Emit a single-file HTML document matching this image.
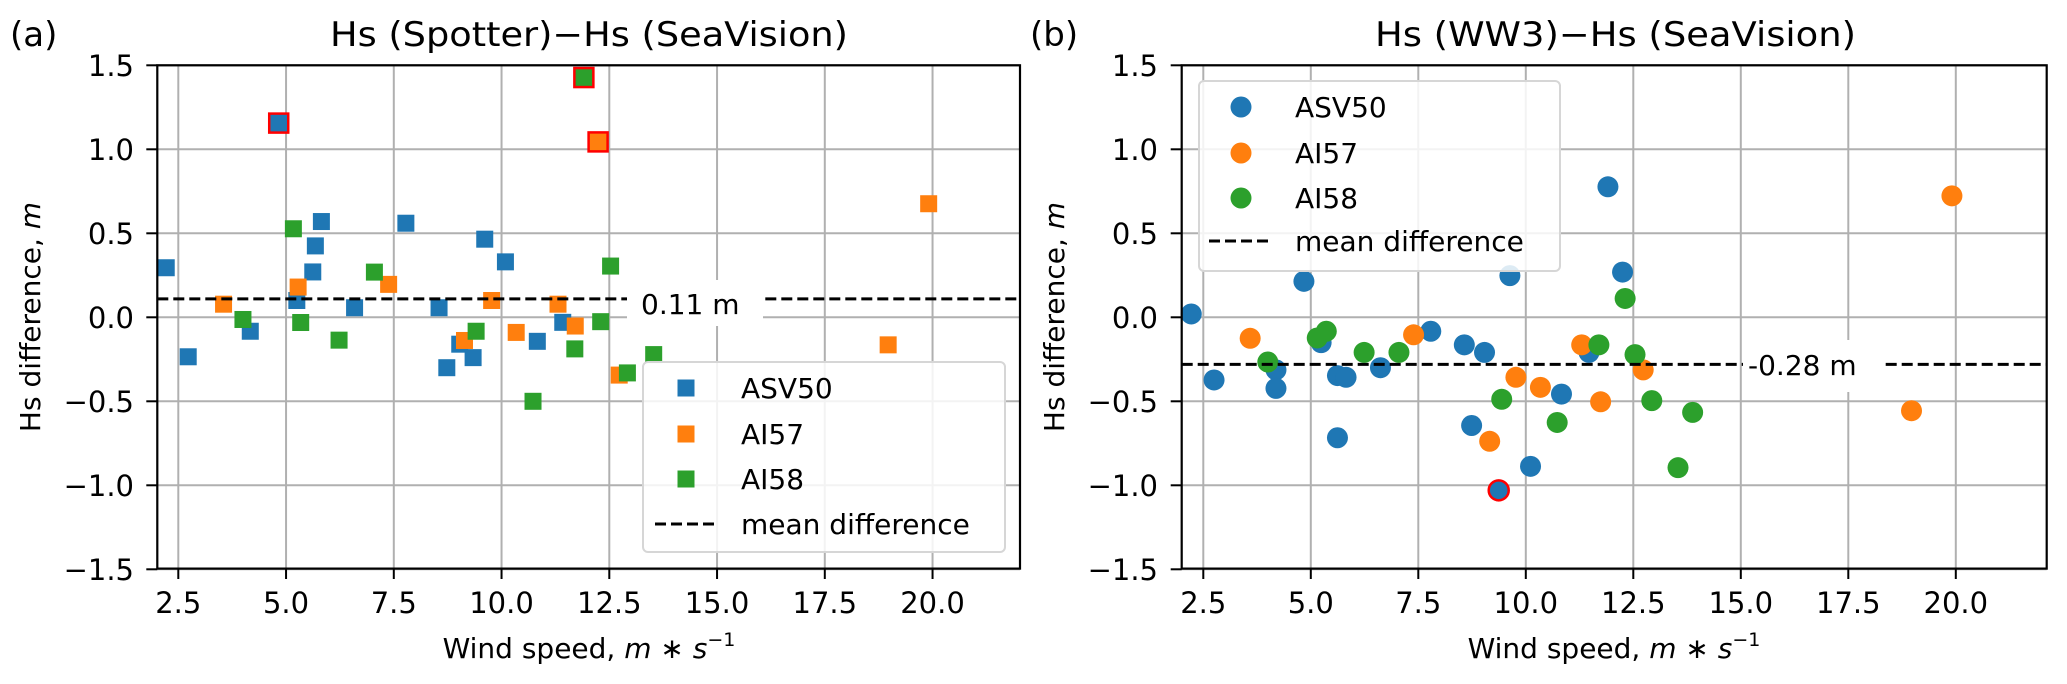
<!DOCTYPE html>
<html><head><meta charset="utf-8"><style>
html,body{margin:0;padding:0;background:#fff}
svg{display:block}
text{font-family:"DejaVu Sans","Liberation Sans",sans-serif;fill:#000}
</style></head><body>
<svg id="s" width="2067" height="684" viewBox="0 0 2067 684" xmlns="http://www.w3.org/2000/svg">
<rect width="2067" height="684" fill="#fff"/>
<g id="grid" stroke="#b0b0b0" stroke-width="2"></g>
<g id="pts"></g>
<g id="over"></g>
<g id="axes" fill="none" stroke="#000" stroke-width="2.2">
<rect x="157.3" y="65.3" width="862.7" height="503.3"/>
<rect x="1181.7" y="65.3" width="865" height="503.3"/>
</g>
<g id="ticks" stroke="#000" stroke-width="2"></g>
<g font-size="29">
<text x="330" y="46" font-size="34" textLength="518" lengthAdjust="spacingAndGlyphs">Hs (Spotter)−Hs (SeaVision)</text>
<text x="10" y="46" font-size="34">(a)</text>
<text x="1375" y="46" font-size="34" textLength="481" lengthAdjust="spacingAndGlyphs">Hs (WW3)−Hs (SeaVision)</text>
<text x="1030" y="46" font-size="34">(b)</text>
<g font-size="28">
<text x="589" y="658" text-anchor="middle">Wind speed, <tspan font-style="italic">m</tspan> ∗ <tspan font-style="italic">s</tspan><tspan font-size="19" dy="-12">−1</tspan></text>
<text x="1614" y="658" text-anchor="middle">Wind speed, <tspan font-style="italic">m</tspan> ∗ <tspan font-style="italic">s</tspan><tspan font-size="19" dy="-12">−1</tspan></text>
<text transform="translate(40,317) rotate(-90)" text-anchor="middle">Hs difference, <tspan font-style="italic">m</tspan></text>
<text transform="translate(1064,317) rotate(-90)" text-anchor="middle">Hs difference, <tspan font-style="italic">m</tspan></text>
</g>
<g text-anchor="end">
<text x="134" y="76">1.5</text><text x="134" y="160">1.0</text><text x="134" y="244">0.5</text><text x="134" y="328">0.0</text><text x="134" y="412">−0.5</text><text x="134" y="496">−1.0</text><text x="134" y="580">−1.5</text>
<text x="1158" y="76">1.5</text><text x="1158" y="160">1.0</text><text x="1158" y="244">0.5</text><text x="1158" y="328">0.0</text><text x="1158" y="412">−0.5</text><text x="1158" y="496">−1.0</text><text x="1158" y="580">−1.5</text>
</g>
<g text-anchor="middle">
<text x="178.3" y="613">2.5</text><text x="286" y="613">5.0</text><text x="393.8" y="613">7.5</text><text x="501.5" y="613">10.0</text><text x="609.3" y="613">12.5</text><text x="717" y="613">15.0</text><text x="824.8" y="613">17.5</text><text x="932.5" y="613">20.0</text>
<text x="1203.3" y="613">2.5</text><text x="1310.8" y="613">5.0</text><text x="1418.3" y="613">7.5</text><text x="1525.8" y="613">10.0</text><text x="1633.3" y="613">12.5</text><text x="1740.8" y="613">15.0</text><text x="1848.3" y="613">17.5</text><text x="1955.8" y="613">20.0</text>
</g>
</g>
<!-- mean labels -->
<rect x="627" y="280" width="136" height="46" fill="#fff"/>
<text x="641" y="314" font-size="28">0.11 m</text>
<rect x="1743" y="340" width="139" height="52" fill="#fff"/>
<text x="1748" y="375" font-size="28">-0.28 m</text>
<!-- legends -->
<rect x="643" y="362" width="362" height="190" rx="5" fill="#fff" fill-opacity="0.85" stroke="#d6d6d6" stroke-width="2"/>
<rect x="677.5" y="379.5" width="17" height="17" fill="#1f77b4"/>
<rect x="677.5" y="425.5" width="17" height="17" fill="#ff7f0e"/>
<rect x="677.5" y="470.5" width="17" height="17" fill="#2ca02c"/>
<line x1="655" y1="524" x2="717" y2="524" stroke="#000" stroke-width="3" stroke-dasharray="11,5"/>
<g font-size="28"><text x="741" y="398">ASV50</text><text x="741" y="444">AI57</text><text x="741" y="489">AI58</text><text x="741" y="534">mean difference</text></g>
<rect x="1199" y="81" width="361" height="190" rx="5" fill="#fff" fill-opacity="0.85" stroke="#d6d6d6" stroke-width="2"/>
<circle cx="1241" cy="107" r="10.5" fill="#1f77b4"/>
<circle cx="1241" cy="153" r="10.5" fill="#ff7f0e"/>
<circle cx="1241" cy="198" r="10.5" fill="#2ca02c"/>
<line x1="1209" y1="241" x2="1272" y2="241" stroke="#000" stroke-width="3" stroke-dasharray="11,5"/>
<g font-size="28"><text x="1295" y="117">ASV50</text><text x="1295" y="163">AI57</text><text x="1295" y="208">AI58</text><text x="1295" y="251">mean difference</text></g>
</svg>
<script>
var NS="http://www.w3.org/2000/svg";
function el(p,t,a){var e=document.createElementNS(NS,t);for(var k in a)e.setAttribute(k,a[k]);p.appendChild(e);return e;}
var grid=document.getElementById('grid'),ticks=document.getElementById('ticks'),pts=document.getElementById('pts');
var Y=function(v){return 317.3-168*v;};
var panels=[{x0:70.55,s:43.1,L:157.3,R:1020},{x0:1095.8,s:43.0,L:1181.7,R:2046.7}];
panels.forEach(function(P){
 for(var v=2.5;v<=20.01;v+=2.5){var x=P.x0+P.s*v;el(grid,'line',{x1:x,x2:x,y1:65.3,y2:568.6});el(ticks,'line',{x1:x,x2:x,y1:568.6,y2:579});}
 for(var w=-1.5;w<=1.51;w+=0.5){var y=Y(w);el(grid,'line',{x1:P.L,x2:P.R,y1:y,y2:y});el(ticks,'line',{x1:P.L-11,x2:P.L,y1:y,y2:y});}
});
var C={b:'#1f77b4',o:'#ff7f0e',g:'#2ca02c'};
var A={b:[[2.22,.295],[2.73,-.235],[4.17,-.083],[5.25,.10],[5.62,.27],[5.68,.425],[5.82,.57],[6.59,.057],[7.78,.56],[8.55,.057],[8.73,-.30],[9.03,-.16],[9.34,-.24],[9.61,.465],[10.09,.33],[10.83,-.143],[11.42,-.03],[4.83,1.156,1]],
o:[[3.55,.078],[5.28,.18],[7.38,.196],[9.14,-.138],[9.77,.10],[10.34,-.09],[11.31,.078],[11.71,-.052],[12.73,-.344],[18.97,-.164],[19.91,.676],[12.24,1.044,1]],
g:[[4.0,-.013],[5.17,.527],[5.34,-.031],[6.23,-.136],[7.05,.269],[9.41,-.083],[10.73,-.50],[11.70,-.188],[12.30,-.026],[12.53,.305],[12.92,-.331],[13.53,-.222],[11.91,1.427,1]]};
var B={b:[[2.22,.02],[2.75,-.373],[4.19,-.313],[4.19,-.423],[4.84,.214],[5.24,-.151],[5.62,-.717],[5.62,-.347],[5.82,-.357],[6.62,-.30],[7.79,-.083],[8.57,-.164],[8.74,-.644],[9.04,-.209],[9.63,.248],[10.11,-.887],[10.83,-.457],[11.47,-.209],[11.91,.777],[12.25,.269],[9.37,-1.03,1]],
o:[[3.59,-.125],[7.39,-.104],[9.16,-.738],[9.77,-.357],[10.34,-.417],[11.30,-.164],[11.74,-.503],[12.73,-.313],[18.97,-.556],[19.91,.723]],
g:[[4.0,-.266],[5.15,-.123],[5.36,-.083],[6.24,-.209],[7.05,-.209],[9.44,-.488],[10.73,-.626],[11.70,-.164],[12.31,.112],[12.54,-.222],[12.93,-.496],[13.54,-.895],[13.88,-.566]]};
['b','o','g'].forEach(function(k){
 A[k].forEach(function(p){var x=panels[0].x0+panels[0].s*p[0],y=Y(p[1]);
  if(p[2])el(pts,'rect',{x:x-9.5,y:y-9.5,width:19,height:19,fill:C[k],stroke:'#ff0000','stroke-width':2.5});
  else el(pts,'rect',{x:x-8.5,y:y-8.5,width:17,height:17,fill:C[k]});});
});
['b','o','g'].forEach(function(k){
 B[k].forEach(function(p){var x=panels[1].x0+panels[1].s*p[0],y=Y(p[1]);
  if(p[2])el(pts,'circle',{cx:x,cy:y,r:10,fill:C[k],stroke:'#ff0000','stroke-width':2.5});
  else el(pts,'circle',{cx:x,cy:y,r:10.5,fill:C[k]});});
});
var ov=document.getElementById('over');
el(ov,'line',{x1:157.3,x2:1020,y1:Y(0.11),y2:Y(0.11),stroke:'#000','stroke-width':3,'stroke-dasharray':'11,5'});
el(ov,'line',{x1:1181.7,x2:2046.7,y1:Y(-0.28),y2:Y(-0.28),stroke:'#000','stroke-width':3,'stroke-dasharray':'11,5'});
</script>
</body></html>
